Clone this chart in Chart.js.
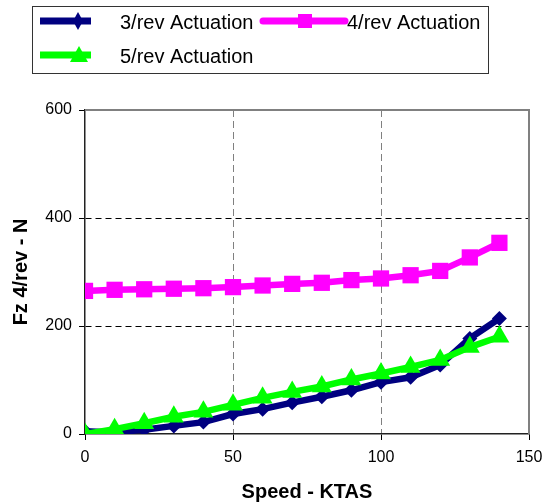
<!DOCTYPE html>
<html>
<head>
<meta charset="utf-8">
<script src="https://cdn.jsdelivr.net/npm/chart.js@4.4.1/dist/chart.umd.min.js"></script>
<style>
  html, body { margin: 0; padding: 0; background: #fff; }
  #wrap { width: 551px; height: 504px; }
</style>
</head>
<body>
<div id="wrap"><canvas id="chartFz" width="551" height="504"></canvas></div>
<script>
// speed (KTAS) and Fz 4/rev (N) per actuation harmonic
const speeds = [0, 10, 20, 30, 40, 50, 60, 70, 80, 90, 100, 110, 120, 130, 140];
const rev3 = [5, 3, 8, 15, 22, 37, 46, 58, 69, 81, 96, 105, 128, 177, 214];
const rev4 = [265, 267, 268, 269, 270, 272, 275, 278, 280, 285, 288, 294, 302, 327, 354];
const rev5 = [0, 9, 20, 32, 41, 54, 67, 78, 88, 101, 112, 124, 137, 161, 180];
const seriesNames = ['3/rev Actuation', '4/rev Actuation', '5/rev Actuation'];
const xTicks = [0, 50, 100, 150];
const yTicks = [0, 200, 400, 600];

const FONT = '"Liberation Sans", Arial, sans-serif';
const pts = ys => speeds.map((x, i) => ({ x: x, y: ys[i] }));

// gray frame on top/right of the plot area
const frame = {
  id: 'frame',
  beforeDatasetsDraw(chart) {
    const { ctx, chartArea: a } = chart;
    ctx.save();
    ctx.strokeStyle = '#808080';
    ctx.lineWidth = 2;
    ctx.beginPath();
    ctx.moveTo(a.left, a.top);
    ctx.lineTo(a.right, a.top);
    ctx.lineTo(a.right, a.bottom);
    ctx.stroke();
    ctx.restore();
  }
};

// boxed legend, two columns, line sample with marker
const boxLegend = {
  id: 'boxLegend',
  afterDraw(chart) {
    const ctx = chart.ctx;
    const ds = chart.data.datasets;
    ctx.save();
    ctx.fillStyle = '#fff';
    ctx.fillRect(32.5, 6.5, 456, 67);
    ctx.strokeStyle = '#333';
    ctx.lineWidth = 1;
    ctx.strokeRect(32.5, 6.5, 456, 67);

    const slots = [
      { i: 0, x1: 40, x2: 91, mx: 78, y: 21, tx: 120, ty: 23 },
      { i: 1, x1: 263, x2: 345, mx: 305, y: 21, tx: 347, ty: 23 },
      { i: 2, x1: 40, x2: 91, mx: 79, y: 55, tx: 120, ty: 57 }
    ];
    slots.forEach(s => {
      const d = ds[s.i];
      ctx.strokeStyle = d.borderColor;
      ctx.lineWidth = 7;
      ctx.lineCap = s.i === 1 ? 'round' : 'butt';
      ctx.beginPath();
      ctx.moveTo(s.x1, s.y);
      ctx.lineTo(s.x2, s.y);
      ctx.stroke();
      ctx.fillStyle = d.borderColor;
      ctx.beginPath();
      if (d.pointStyle === 'rectRot') {
        ctx.moveTo(s.mx, s.y - 9);
        ctx.lineTo(s.mx + 5, s.y);
        ctx.lineTo(s.mx, s.y + 9);
        ctx.lineTo(s.mx - 5, s.y);
      } else if (d.pointStyle === 'rect') {
        ctx.rect(s.mx - 7, s.y - 7, 14, 14);
      } else {
        ctx.moveTo(s.mx, s.y - 9);
        ctx.lineTo(s.mx + 9, s.y + 7);
        ctx.lineTo(s.mx - 9, s.y + 7);
      }
      ctx.closePath();
      ctx.fill();
      ctx.fillStyle = '#000';
      ctx.font = '20px ' + FONT;
      ctx.textBaseline = 'middle';
      ctx.fillText(seriesNames[s.i], s.tx, s.ty);
    });
    ctx.restore();
  }
};

new Chart(document.getElementById('chartFz'), {
  type: 'line',
  data: {
    datasets: [
      { label: seriesNames[0], data: pts(rev3), borderColor: '#000080', backgroundColor: '#000080',
        borderWidth: 6.5, pointStyle: 'rectRot', pointRadius: 7.5, pointBorderWidth: 0, order: 2 },
      { label: seriesNames[1], data: pts(rev4), borderColor: '#ff00ff', backgroundColor: '#ff00ff',
        borderWidth: 6.5, pointStyle: 'rect', pointRadius: 11.5, pointBorderWidth: 0, order: 1 },
      { label: seriesNames[2], data: pts(rev5), borderColor: '#00ff00', backgroundColor: '#00ff00',
        borderWidth: 6.5, pointStyle: 'triangle', pointRadius: 11.5, pointBorderWidth: 0, order: 0 }
    ]
  },
  options: {
    responsive: false,
    animation: false,
    events: [],
    layout: { padding: { top: 110, right: 22, left: 0, bottom: 0 } },
    plugins: { legend: { display: false }, tooltip: { enabled: false } },
    scales: {
      x: {
        type: 'linear', min: 0, max: 150,
        afterBuildTicks: s => { s.ticks = xTicks.map(v => ({ value: v })); },
        afterFit: s => { s.height = 70; },
        ticks: { color: '#000', font: { family: FONT, size: 16 }, padding: 8, maxRotation: 0 },
        grid: {
          color: c => (c.tick && (c.tick.value === 0 || c.tick.value === 150)) ? 'rgba(0,0,0,0)' : '#808080',
          lineWidth: 1, tickLength: 6, tickColor: '#000', tickBorderDash: [], drawTicks: true
        },
        border: { display: true, color: '#222', width: 1.5, dash: [7, 4] },
        title: { display: true, text: 'Speed - KTAS', color: '#000',
          font: { family: FONT, size: 20, weight: 'bold' }, padding: { top: 0, bottom: 0 } }
      },
      y: {
        min: 0, max: 600,
        afterBuildTicks: s => { s.ticks = yTicks.map(v => ({ value: v })); },
        afterFit: s => { s.width = 85; },
        ticks: { color: '#000', font: { family: FONT, size: 16 }, padding: 7 },
        grid: {
          color: c => (c.tick && (c.tick.value === 0 || c.tick.value === 600)) ? 'rgba(0,0,0,0)' : '#000',
          lineWidth: 1, tickLength: 6, tickColor: '#000', tickBorderDash: []
        },
        border: { display: true, color: '#222', width: 1.5, dash: [6, 4] },
        title: { display: true, text: 'Fz 4/rev - N', color: '#000',
          font: { family: FONT, size: 20, weight: 'bold' }, padding: { top: 9, bottom: 0 } }
      }
    }
  },
  plugins: [frame, boxLegend]
});
</script>
</body>
</html>
